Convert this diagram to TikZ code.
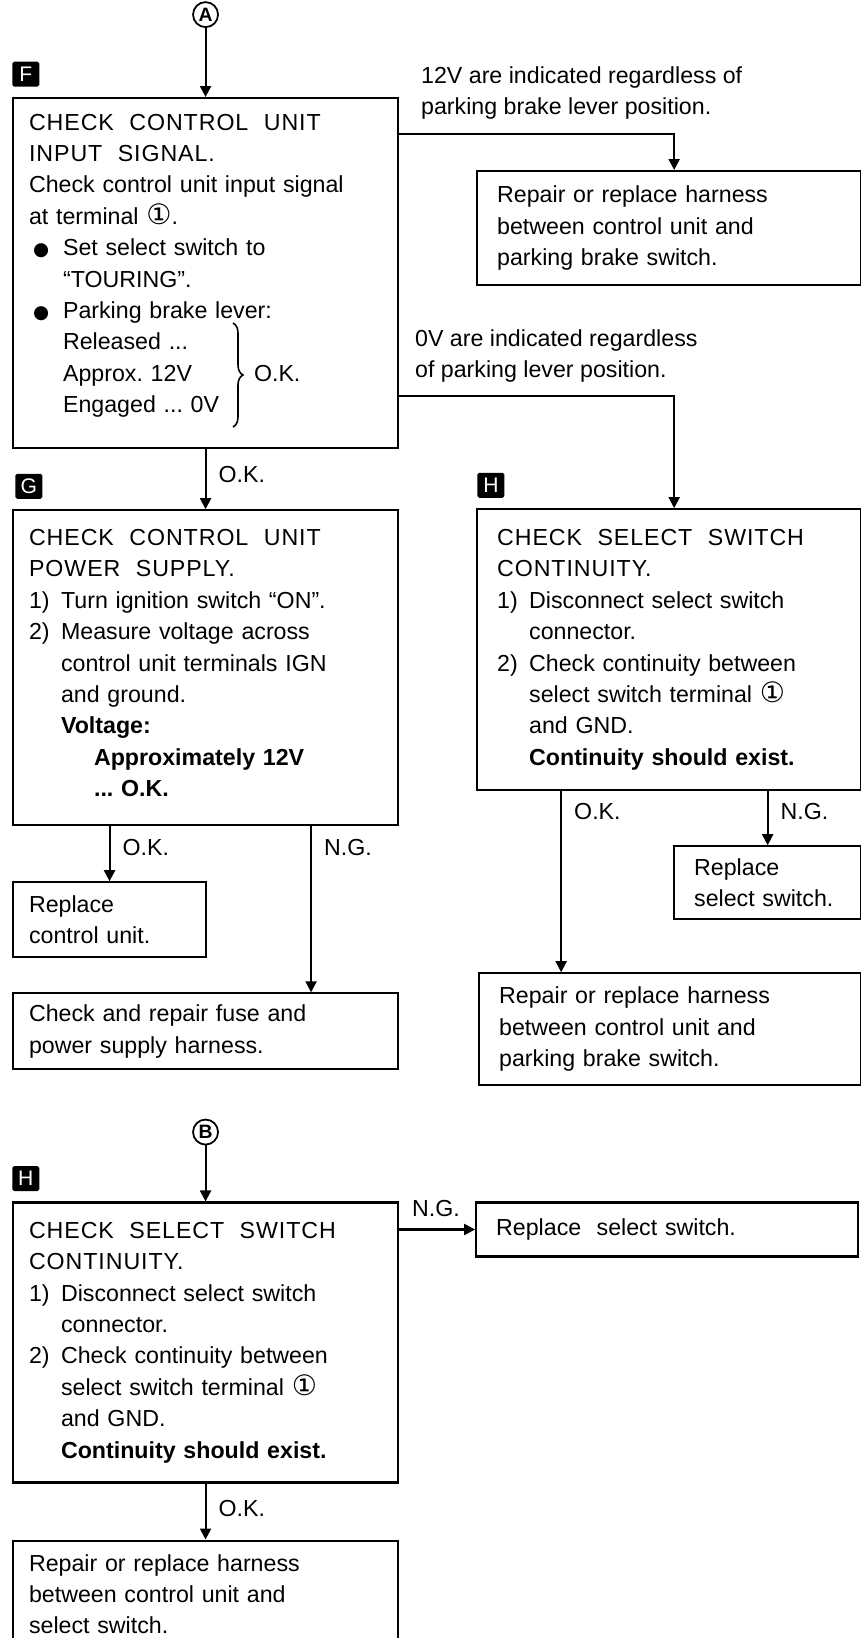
\documentclass[tikz,border=0pt]{standalone}
\usepackage{fontspec}
\setmainfont{Liberation Sans}
\newfontfamily\dvfont{DejaVu Sans}
\usepackage{tikz}
\usetikzlibrary{arrows.meta, positioning, decorations.pathreplacing}

\newcommand{\bodyfont}{\fontsize{13.2pt}{17.86pt}\selectfont\frenchspacing}
\newcommand{\one}{{\dvfont\fontsize{16pt}{16pt}\selectfont ①}}
\newcommand{\bul}{\makebox[0.68cm][l]{\hspace{0.08cm}{\dvfont\fontsize{10.5pt}{10pt}\selectfont ●}}}
\newcommand{\nm}[1]{\makebox[0.64cm][l]{#1}}
\newcommand{\ind}{\hspace*{0.64cm}}
\newcommand{\hd}[1]{{\addfontfeature{LetterSpace=4}#1}}

\begin{document}
\begin{tikzpicture}[
  box/.style={rectangle, draw, line width=1.2pt, align=left, inner xsep=0.32cm,
              inner ysep=0.1cm, font=\bodyfont},
  rbox/.style={box, inner xsep=0.4cm},
  tag/.style={fill=black, text=white, minimum width=0.54cm, minimum height=0.5cm,
              inner sep=0pt, rounded corners=1pt, font=\fontsize{12pt}{12pt}\selectfont},
  circ/.style={circle, draw, line width=1pt, minimum size=0.5cm, inner sep=0pt,
               font=\bfseries\fontsize{11pt}{11pt}\selectfont},
  arrow/.style={-{Triangle[length=0.22cm, width=0.22cm]}, line width=1.2pt},
  lbl/.style={inner sep=0.24cm, font=\bodyfont},
  note/.style={inner sep=0pt, align=left, font=\bodyfont}
]
  \useasboundingbox (0,0) rectangle (17.2,-32.76);

  % upper chart
  \node[box, text width=7.06cm, minimum height=7cm, anchor=north west] (F) at (0.24,-1.94)
    {\hd{CHECK\ \ CONTROL\ \ UNIT}\\
     \hd{INPUT\ \ SIGNAL.}\\
     Check control unit input signal\\
     at terminal \one.\\
     \bul Set select switch to\\
     \hspace*{0.68cm}“TOURING”.\\
     \bul Parking brake lever:\\
     \hspace*{0.68cm}Released ...\\
     \hspace*{0.68cm}\makebox[3.82cm][l]{Approx. 12V}O.K.\\
     \hspace*{0.68cm}Engaged ... 0V\rule[-0.39cm]{0pt}{0.39cm}};
  \node[tag, above right=0.2cm and 0cm of F.north west] (tF) {F};
  \node[circ, above=1.38cm of F.north] (A) {A};
  \node[rbox, text width=6.88cm, minimum height=2.28cm, below right=1.46cm and 1.54cm of F.north east] (R1)
    {Repair or replace harness\\between control unit and\\parking brake switch.};
  \node[box, text width=7.06cm, minimum height=6.3cm, below=1.2cm of F.south west, anchor=north west] (G)
    {\hd{CHECK\ \ CONTROL\ \ UNIT}\\
     \hd{POWER\ \ SUPPLY.}\\
     \nm{1)}Turn ignition switch “ON”.\\
     \nm{2)}Measure voltage across\\
     \ind control unit terminals IGN\\
     \ind and ground.\\
     \ind\textbf{Voltage:}\\
     \hspace*{1.3cm}\textbf{Approximately 12V}\\
     \hspace*{1.3cm}\textbf{... O.K.}\rule[-0.19cm]{0pt}{0.19cm}};
  \node[tag, above right=0.2cm and 0.06cm of G.north west] (tG) {G};
  \node[rbox, text width=6.88cm, minimum height=5.62cm, below=4.44cm of R1.south west, anchor=north west] (H)
    {\hd{CHECK\ \ SELECT\ \ SWITCH}\\
     \hd{CONTINUITY.}\\
     \nm{1)}Disconnect select switch\\
     \ind connector.\\
     \nm{2)}Check continuity between\\
     \ind select switch terminal \one\\
     \ind and GND.\\
     \ind\textbf{Continuity should exist.}};
  \node[tag, above right=0.2cm and 0.02cm of H.north west] (tH) {H};
  \node[box, text width=3.22cm, minimum height=1.5cm, below=1.1cm of G.south west, anchor=north west] (RC)
    {Replace\\control unit.};
  \node[box, text width=7.06cm, minimum height=1.52cm, below=0.68cm of RC.south west, anchor=north west] (FUSE)
    {Check and repair fuse and\\power supply harness.};
  \node[rbox, text width=2.94cm, minimum height=1.46cm, below=1.08cm of H.south east, anchor=north east] (RS)
    {Replace\\select switch.};
  \node[rbox, text width=6.84cm, minimum height=2.24cm, below=3.62cm of H.south east, anchor=north east] (R2)
    {Repair or replace harness\\between control unit and\\parking brake switch.};

  % lower chart
  \node[box, text width=7.06cm, minimum height=5.6cm, below=2.62cm of FUSE.south west, anchor=north west] (H2)
    {\hd{CHECK\ \ SELECT\ \ SWITCH}\\
     \hd{CONTINUITY.}\\
     \nm{1)}Disconnect select switch\\
     \ind connector.\\
     \nm{2)}Check continuity between\\
     \ind select switch terminal \one\\
     \ind and GND.\\
     \ind\textbf{Continuity should exist.}};
  \node[tag, above right=0.2cm and 0cm of H2.north west] (tH2) {H};
  \node[circ, above=1.12cm of H2.north] (B) {B};
  \node[rbox, text width=6.84cm, minimum height=1.08cm, right=1.52cm of H2.north east, anchor=north west] (RS2)
    {Replace\ \ select switch.};
  \node[box, text width=7.06cm, minimum height=2.14cm, below=1.12cm of H2.south west, anchor=north west] (R3)
    {Repair or replace harness\\between control unit and\\select switch.};

  % brace for the O.K. range in F
  \draw[line width=0.9pt, decorate, decoration={brace, amplitude=0.2cm}]
    ([shift={(4.42cm,-4.52cm)}]F.north west) -- ([shift={(4.42cm,-6.6cm)}]F.north west);

  \draw[arrow] (A) -- (F);
  \draw[arrow] (F) -- node[lbl, right, pos=0.42] (okF) {O.K.} (G);
  \draw[arrow] ([yshift=-0.74cm]F.north east) -| node[note, pos=0, anchor=south west, xshift=0.42cm, yshift=0.27cm] (n12)
    {12V are indicated regardless of\\parking brake lever position.} ([xshift=0.1cm]R1.north);
  \draw[arrow] ([yshift=1.06cm]F.south east) -| node[note, pos=0, anchor=south west, xshift=0.3cm, yshift=0.25cm] (n0)
    {0V are indicated regardless\\of parking lever position.} ([xshift=0.1cm]H.north);
  \draw[arrow] (G.south -| RC.north) -- node[lbl, right, pos=0.38] (okG) {O.K.} (RC);
  \draw[arrow] ([xshift=2.11cm]G.south) -- node[lbl, right, pos=0.13] (ngG) {N.G.} ([xshift=2.11cm]G.south |- FUSE.north);
  \draw[arrow] ([xshift=-2.16cm]H.south) -- node[lbl, right, pos=0.11] (okH) {O.K.} ([xshift=-2.16cm]H.south |- R2.north);
  \draw[arrow] (H.south -| RS.north) -- node[lbl, right, pos=0.37] (ngH) {N.G.} (RS);
  \draw[arrow] (B) -- (H2);
  \draw[arrow] (H2.east |- RS2.west) -- node[lbl, above right, pos=0] (ngH2) {N.G.} (RS2);
  \draw[arrow] (H2) -- node[lbl, right, pos=0.45] (okH2) {O.K.} (R3);
\end{tikzpicture}
\end{document}
